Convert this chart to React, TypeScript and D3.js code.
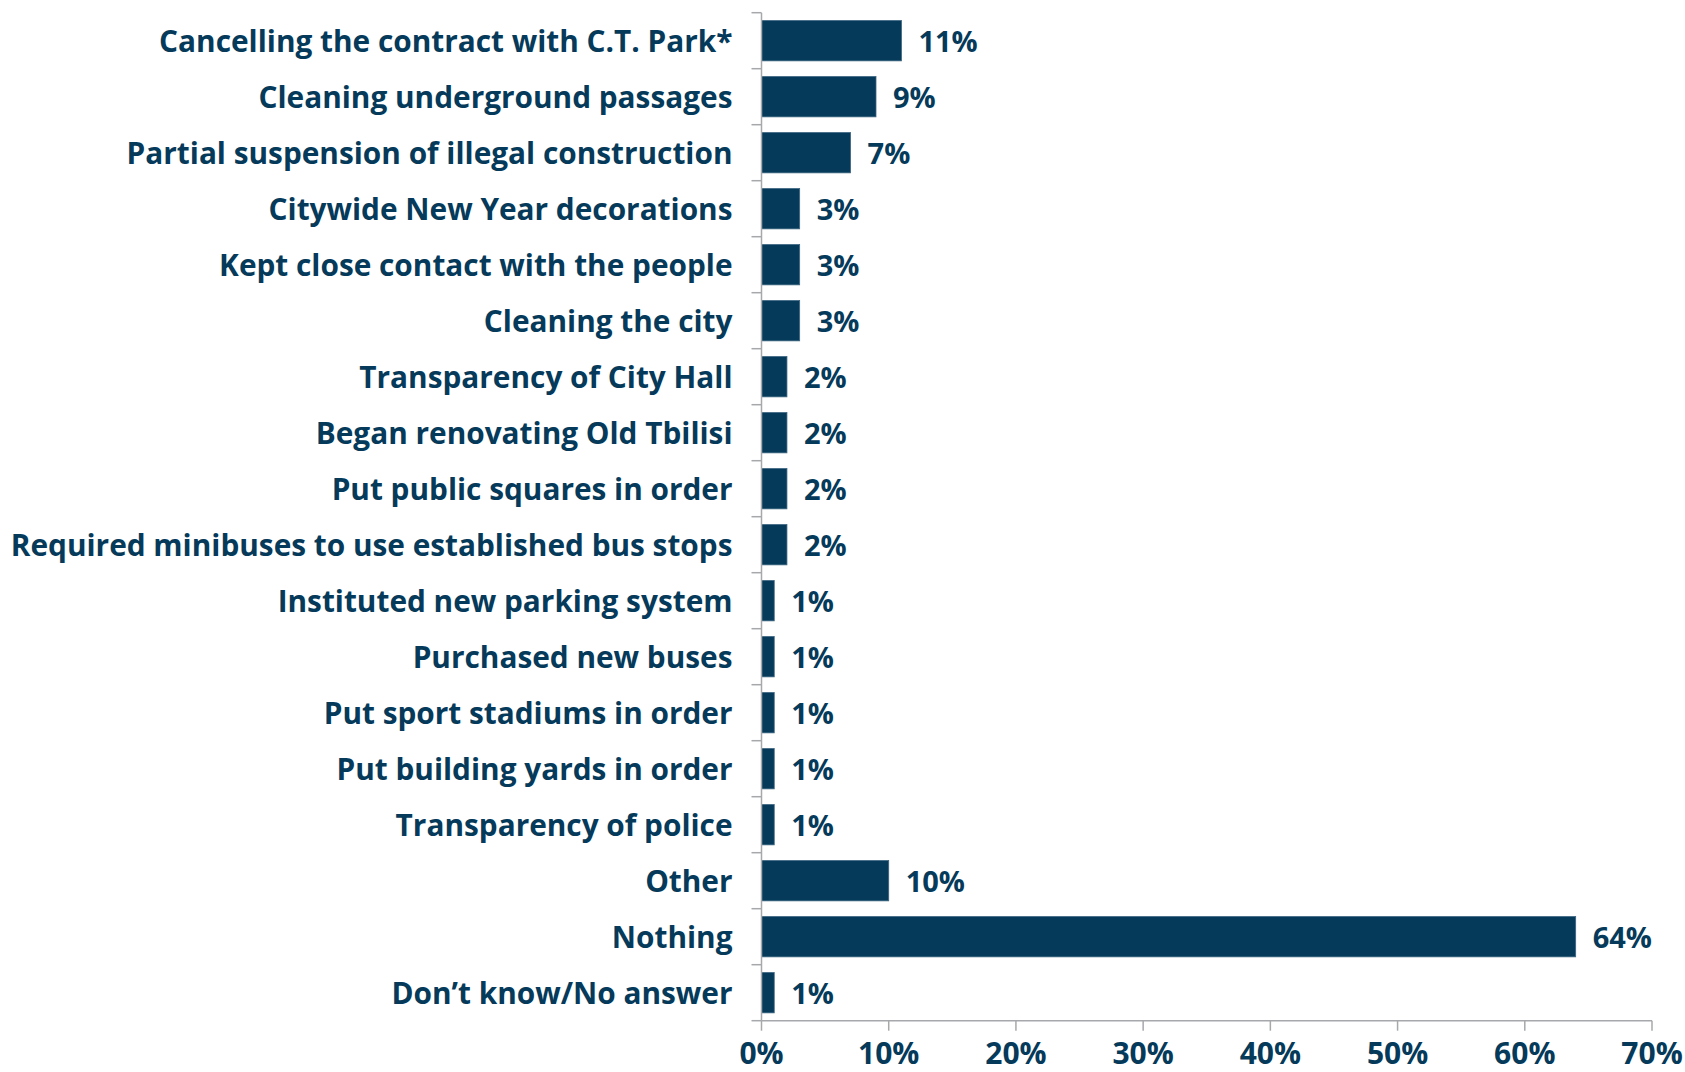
import React from "react";
import * as d3 from "d3";

const categories = [
  "Cancelling the contract with C.T. Park*",
  "Cleaning underground passages",
  "Partial suspension of illegal construction",
  "Citywide New Year decorations",
  "Kept close contact with the people",
  "Cleaning the city",
  "Transparency of City Hall",
  "Began renovating Old Tbilisi",
  "Put public squares in order",
  "Required minibuses to use established bus stops",
  "Instituted new parking system",
  "Purchased new buses",
  "Put sport stadiums in order",
  "Put building yards in order",
  "Transparency of police",
  "Other",
  "Nothing",
  "Don\u2019t know/No answer",
];
const values = [11, 9, 7, 3, 3, 3, 2, 2, 2, 2, 1, 1, 1, 1, 1, 10, 64, 1];
const xTicks = [0, 10, 20, 30, 40, 50, 60, 70];

const W = 1685;
const H = 1072;
const X0 = 761.5;
const X1 = 1652;
const Y0 = 12.7;
const Y1 = 1020.7;
const NAVY = "#053a5a";
const GRID = "#a6a8ab";
const FONT = "'Open Sans', sans-serif";

export default function App() {
  const x = d3.scaleLinear().domain([0, 70]).range([X0, X1]);
  const y = d3
    .scaleBand<string>()
    .domain(categories)
    .range([Y0, Y1])
    .paddingInner(0.28)
    .paddingOuter(0.14);
  const step = (Y1 - Y0) / categories.length;
  const boundaries = d3.range(categories.length + 1).map((i) => Y0 + i * step);

  return (
    <div style={{ position: "fixed", left: 0, top: 0 }}>
      <svg width={W} height={H} style={{ display: "block", background: "#fff" }}>
        <g fontFamily={FONT} fontWeight={700} fill={NAVY}>
          {categories.map((c, i) => (
            <g key={c}>
              <rect
                x={x(0)}
                y={y(c)!}
                width={x(values[i]) - x(0)}
                height={y.bandwidth()}
                fill={NAVY}
                stroke="#3d6580"
                strokeWidth={0.8}
              />
              <text
                x={X0 - 29}
                y={y(c)! + y.bandwidth() / 2}
                textAnchor="end"
                dominantBaseline="central"
                fontSize={29.8}
              >
                {c}
              </text>
              <text
                x={x(values[i]) + 17}
                y={y(c)! + y.bandwidth() / 2}
                dominantBaseline="central"
                fontSize={29}
              >
                {values[i] + "%"}
              </text>
            </g>
          ))}
          {/* y axis */}
          <line x1={X0} x2={X0} y1={Y0} y2={Y1} stroke={GRID} strokeWidth={1.5} />
          {boundaries.map((b, i) => (
            <line key={i} x1={X0 - 10} x2={X0} y1={b} y2={b} stroke={GRID} strokeWidth={1.5} />
          ))}
          {/* x axis */}
          <line x1={X0} x2={X1} y1={Y1} y2={Y1} stroke={GRID} strokeWidth={1.5} />
          {xTicks.map((t) => (
            <g key={t}>
              <line x1={x(t)} x2={x(t)} y1={Y1} y2={Y1 + 10} stroke={GRID} strokeWidth={1.5} />
              <text x={x(t)} y={1064} textAnchor="middle" fontSize={30}>
                {t + "%"}
              </text>
            </g>
          ))}
        </g>
      </svg>
    </div>
  );
}
